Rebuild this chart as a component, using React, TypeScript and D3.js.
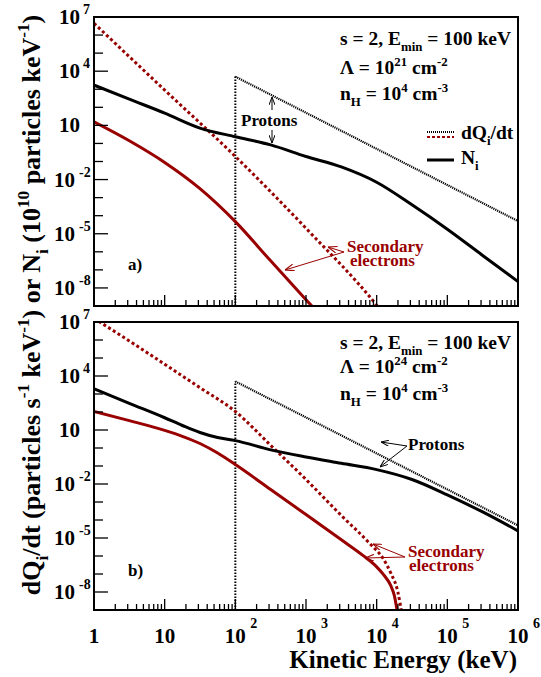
import React from 'react';
import * as d3 from 'd3';

// ---------- layout ----------
const W = 541;
const H = 677;
const X0 = 94;
const X1 = 518;
const PANEL_TOPS = [17, 322];
const PANEL_BOTTOMS = [306, 610];

// ---------- axes data ----------
const xDomain = [1, 1e6];
const yDomain = [1e-9, 1e7];
const xMajorTicks = [1, 10, 100, 1e3, 1e4, 1e5, 1e6];
const xTickExp = ['', '', '2', '3', '4', '5', '6'];
const xTickBase = ['1', '10', '10', '10', '10', '10', '10'];
const yDecadeTicks = [1e-8, 1e-7, 1e-6, 1e-5, 1e-4, 1e-3, 1e-2, 1e-1, 1, 10, 100, 1e3, 1e4, 1e5, 1e6, 1e7];
const yLabelTicks = [1e7, 1e4, 10, 1e-2, 1e-5, 1e-8];
const yLabelExp = ['7', '4', '', '-2', '-5', '-8'];

// ---------- panel a) Lambda = 1e21 ----------
const eElecQA = [1, 10, 100, 1000, 1e4, 1.3e4];
const vElecQA = [4.5e6, 9.0e2, 1.9e-1, 2.0e-5, 1.1e-9, 3e-10];

const eElecNA = [1, 3.16, 10, 31.6, 100, 316, 1000, 1585];
const vElecNA = [15.8, 1.41, 8.9e-2, 3.16e-3, 4.7e-5, 3.16e-7, 2.24e-9, 3.2e-10];

const eProtNA = [1, 3.16, 10, 31.6, 100, 316, 1000, 3160, 1e4, 3.16e4, 1e5, 3.16e5, 1e6];
const vProtNA = [1700, 282, 47.9, 7.1, 2.34, 0.83, 0.19, 5.0e-2, 7.1e-3, 4.0e-4, 1.78e-5, 6.3e-7, 2.24e-8];

// ---------- panel b) Lambda = 1e24 ----------
const eElecQB = [1, 3.16, 10, 31.6, 100, 316, 1000, 3160, 7940, 12600, 15850, 19950, 22900];
const vElecQB = [1.58e7, 8.9e5, 4.5e4, 2.24e3, 107, 1.41, 1.78e-2, 1.78e-4, 5.0e-6, 6.3e-7, 1.12e-7, 1.0e-8, 5e-10];

const eElecNB = [1, 3.16, 10, 17.8, 31.6, 56.2, 100, 316, 1000, 3160, 6310, 1e4, 12600, 15850, 17800, 19950];
const vElecNB = [107, 33.1, 9.5, 4.47, 1.78, 0.525, 0.12, 5.0e-3, 2.0e-4, 7.9e-6, 1.12e-6, 2.5e-7, 8.9e-8, 2.24e-8, 6.3e-9, 5e-10];

const eProtNB = [1, 3.16, 10, 17.8, 31.6, 56.2, 100, 316, 1000, 3160, 1e4, 3.16e4, 1e5, 3.16e5, 1e6];
const vProtNB = [1950, 302, 47.9, 17.8, 7.24, 3.8, 2.57, 0.79, 0.316, 0.141, 6.3e-2, 1.78e-2, 2.5e-3, 2.8e-4, 2.5e-5];

// proton injection spectrum (same in both panels), s = 2 above Emin = 100 keV
const eProtQ = [100, 1e6];
const vProtQ = [5.0e3, 5.0e-5];
const eMin = 100;

const RED = '#990000';
const FONT = "'Liberation Serif', 'Times New Roman', serif";

type Seg = { t: string; k?: 'sup' | 'sub' };

function Rich(props: {
  x: number; y: number; segs: Seg[]; size: number; anchor?: string; fill?: string; transform?: string;
}) {
  const { x, y, segs, size, anchor = 'start', fill = '#000', transform } = props;
  let cur = 0;
  const kids = segs.map((s, i) => {
    const target = s.k === 'sup' ? -0.42 * size : s.k === 'sub' ? 0.3 * size : 0;
    const dy = target - cur;
    cur = target;
    return (
      <tspan key={i} dy={dy} fontSize={s.k ? size * 0.66 : size}>
        {s.t}
      </tspan>
    );
  });
  return (
    <text x={x} y={y} textAnchor={anchor as any} fontFamily={FONT} fontWeight="bold" fontSize={size} fill={fill} transform={transform}>
      {kids}
    </text>
  );
}

function zip(e: number[], v: number[]): [number, number][] {
  return e.map((d, i) => [d, v[i]] as [number, number]);
}

const xScale = d3.scaleLog().domain(xDomain).range([X0, X1]);

function Panel(props: { idx: number }) {
  const { idx } = props;
  const top = PANEL_TOPS[idx];
  const bottom = PANEL_BOTTOMS[idx];
  const y = d3.scaleLog().domain(yDomain).range([bottom, top]);
  const line = d3
    .line<[number, number]>()
    .x((d) => xScale(d[0]))
    .y((d) => y(d[1]))
    .curve(d3.curveMonotoneX);

  const series =
    idx === 0
      ? [
          { d: zip(eElecQA, vElecQA), c: RED, w: 3, dash: '3,2.6' },
          { d: zip(eElecNA, vElecNA), c: RED, w: 3, dash: undefined },
          { d: zip(eProtNA, vProtNA), c: '#000', w: 3, dash: undefined },
          { d: zip(eProtQ, vProtQ), c: '#000', w: 2.2, dash: '1.2,0.9' },
        ]
      : [
          { d: zip(eElecQB, vElecQB), c: RED, w: 3, dash: '3,2.6' },
          { d: zip(eElecNB, vElecNB), c: RED, w: 3, dash: undefined },
          { d: zip(eProtNB, vProtNB), c: '#000', w: 3, dash: undefined },
          { d: zip(eProtQ, vProtQ), c: '#000', w: 2.2, dash: '1.2,0.9' },
        ];

  const clipId = `clip${idx}`;
  const minorX: number[] = [];
  for (let dec = 1; dec < 1e6; dec *= 10) {
    for (let m = 2; m <= 9; m++) minorX.push(dec * m);
  }

  return (
    <g>
      <defs>
        <clipPath id={clipId}>
          <rect x={X0} y={top} width={X1 - X0} height={bottom - top} />
        </clipPath>
      </defs>
      <g clipPath={`url(#${clipId})`}>
        {/* vertical edge of the proton injection spectrum at Emin */}
        <line
          x1={xScale(eMin)}
          x2={xScale(eMin)}
          y1={bottom}
          y2={y(vProtQ[0])}
          stroke="#000"
          strokeWidth={2}
          strokeDasharray="1.5,1.5"
        />
        {series.map((s, i) => (
          <path key={i} d={line(s.d) || ''} fill="none" stroke={s.c} strokeWidth={s.w} strokeDasharray={s.dash} />
        ))}
      </g>
      {/* x ticks */}
      {xMajorTicks.map((t, i) => (
        <line key={'xm' + i} x1={xScale(t)} x2={xScale(t)} y1={bottom} y2={bottom - 11} stroke="#000" strokeWidth={1.3} />
      ))}
      {minorX.map((t, i) => (
        <line key={'xn' + i} x1={xScale(t)} x2={xScale(t)} y1={bottom} y2={bottom - 6} stroke="#000" strokeWidth={1.3} />
      ))}
      {/* y ticks */}
      {yDecadeTicks.map((t, i) => (
        <line
          key={'yt' + i}
          x1={X0}
          x2={X0 + (yLabelTicks.includes(t) ? 14 : 9)}
          y1={y(t)}
          y2={y(t)}
          stroke="#000"
          strokeWidth={1.3}
        />
      ))}
      {/* y tick labels */}
      {yLabelTicks.map((t, i) => {
        const exp = yLabelExp[i];
        const neg = exp.startsWith('-');
        const baseEnd = neg ? 75 : 80;
        return (
          <g key={'yl' + i} fontFamily={FONT} fontWeight="bold">
            <text x={baseEnd} y={y(t) + 7} textAnchor="end" fontSize={21}>
              10
            </text>
            {exp && (
              <text x={baseEnd + (neg ? 4 : 3)} y={y(t) - 3} fontSize={14}>
                {exp}
              </text>
            )}
          </g>
        );
      })}
      {/* frame */}
      <rect x={X0} y={top} width={X1 - X0} height={bottom - top} fill="none" stroke="#000" strokeWidth={2} />
    </g>
  );
}

export default function App() {
  return (
    <svg width={W} height={H} style={{ position: 'absolute', left: 0, top: 0, background: '#fff' }}>
      <defs>
        <marker id="arrK" viewBox="0 0 8 6" refX={8} refY={3} markerWidth={8} markerHeight={6} markerUnits="userSpaceOnUse" orient="auto">
          <path d="M0,0 L8,3 L0,6" fill="none" stroke="#000" strokeWidth={1} />
        </marker>
        <marker id="arrR" viewBox="0 0 8 6" refX={8} refY={3} markerWidth={9} markerHeight={7} markerUnits="userSpaceOnUse" orient="auto">
          <path d="M0,0 L8,3 L0,6" fill="none" stroke={RED} strokeWidth={1} />
        </marker>
      </defs>
      <rect x={0} y={0} width={W} height={H} fill="#fff" />
      <Panel idx={0} />
      <Panel idx={1} />

      {/* x tick labels (bottom panel) */}
      {xMajorTicks.map((t, i) => (
        <g key={'xl' + i} fontFamily={FONT} fontWeight="bold">
          <text x={xScale(t)} y={643} textAnchor="middle" fontSize={21}>
            {xTickBase[i]}
          </text>
          {xTickExp[i] && (
            <text x={xScale(t) + 15} y={628} fontSize={14}>
              {xTickExp[i]}
            </text>
          )}
        </g>
      ))}

      {/* axis titles */}
      <text x={517} y={668} textAnchor="end" fontFamily={FONT} fontWeight="bold" fontSize={25}>
        Kinetic Energy (keV)
      </text>
      <Rich
        x={0}
        y={0}
        size={26}
        anchor="middle"
        transform="translate(40,305) rotate(-90)"
        segs={[
          { t: 'dQ' },
          { t: 'i', k: 'sub' },
          { t: '/dt (particles s' },
          { t: '-1', k: 'sup' },
          { t: ' keV' },
          { t: '-1', k: 'sup' },
          { t: ') or N' },
          { t: 'i', k: 'sub' },
          { t: ' (10' },
          { t: '10', k: 'sup' },
          { t: ' particles keV' },
          { t: '-1', k: 'sup' },
          { t: ')' },
        ]}
      />

      {/* panel a annotations */}
      <Rich x={340} y={45} size={19.5} segs={[{ t: 's = 2, E' }, { t: 'min', k: 'sub' }, { t: ' = 100 keV' }]} />
      <Rich x={340} y={74} size={19.5} segs={[{ t: 'Λ = 10' }, { t: '21', k: 'sup' }, { t: ' cm' }, { t: '-2', k: 'sup' }]} />
      <Rich x={340} y={100} size={19.5} segs={[{ t: 'n' }, { t: 'H', k: 'sub' }, { t: ' = 10' }, { t: '4', k: 'sup' }, { t: ' cm' }, { t: '-3', k: 'sup' }]} />

      {/* legend */}
      <line x1={427} x2={454} y1={132} y2={132} stroke="#000" strokeWidth={2} strokeDasharray="1,1" />
      <line x1={427} x2={454} y1={137} y2={137} stroke={RED} strokeWidth={2} strokeDasharray="3,2" />
      <Rich x={461} y={139} size={19.5} segs={[{ t: 'dQ' }, { t: 'i', k: 'sub' }, { t: '/dt' }]} />
      <line x1={427} x2={454} y1={160} y2={160} stroke="#000" strokeWidth={3} />
      <Rich x={461} y={164} size={19.5} segs={[{ t: 'N' }, { t: 'i', k: 'sub' }]} />

      {/* Protons label (a) */}
      <text x={241} y={126} fontFamily={FONT} fontWeight="bold" fontSize={17}>
        Protons
      </text>
      <line x1={272} x2={272} y1={110} y2={97} stroke="#000" strokeWidth={1} markerEnd="url(#arrK)" />
      <line x1={272} x2={272} y1={130} y2={143} stroke="#000" strokeWidth={1} markerEnd="url(#arrK)" />

      {/* Secondary electrons (a) */}
      <text x={347} y={252} fontFamily={FONT} fontWeight="bold" fontSize={17} fill={RED}>
        Secondary
      </text>
      <text x={350} y={266} fontFamily={FONT} fontWeight="bold" fontSize={17} fill={RED}>
        electrons
      </text>
      <line x1={344} x2={328} y1={252} y2={247} stroke={RED} strokeWidth={1} markerEnd="url(#arrR)" />
      <line x1={344} x2={285} y1={252} y2={270} stroke={RED} strokeWidth={1} markerEnd="url(#arrR)" />

      <text x={128} y={270} fontFamily={FONT} fontWeight="bold" fontSize={17}>
        a)
      </text>

      {/* panel b annotations */}
      <Rich x={340} y={349} size={19.5} segs={[{ t: 's = 2, E' }, { t: 'min', k: 'sub' }, { t: ' = 100 keV' }]} />
      <Rich x={340} y={373} size={19.5} segs={[{ t: 'Λ = 10' }, { t: '24', k: 'sup' }, { t: ' cm' }, { t: '-2', k: 'sup' }]} />
      <Rich x={340} y={400} size={19.5} segs={[{ t: 'n' }, { t: 'H', k: 'sub' }, { t: ' = 10' }, { t: '4', k: 'sup' }, { t: ' cm' }, { t: '-3', k: 'sup' }]} />

      <text x={408} y={450} fontFamily={FONT} fontWeight="bold" fontSize={17}>
        Protons
      </text>
      <line x1={407} x2={381} y1={446} y2={442} stroke="#000" strokeWidth={1} markerEnd="url(#arrK)" />
      <line x1={407} x2={380} y1={446} y2={467} stroke="#000" strokeWidth={1} markerEnd="url(#arrK)" />

      <text x={408} y={557} fontFamily={FONT} fontWeight="bold" fontSize={17} fill={RED}>
        Secondary
      </text>
      <text x={409} y={571} fontFamily={FONT} fontWeight="bold" fontSize={17} fill={RED}>
        electrons
      </text>
      <line x1={405} x2={373} y1={557} y2={544} stroke={RED} strokeWidth={1} markerEnd="url(#arrR)" />
      <line x1={405} x2={365} y1={557} y2={558} stroke={RED} strokeWidth={1} markerEnd="url(#arrR)" />

      <text x={128} y={576} fontFamily={FONT} fontWeight="bold" fontSize={17}>
        b)
      </text>
    </svg>
  );
}
